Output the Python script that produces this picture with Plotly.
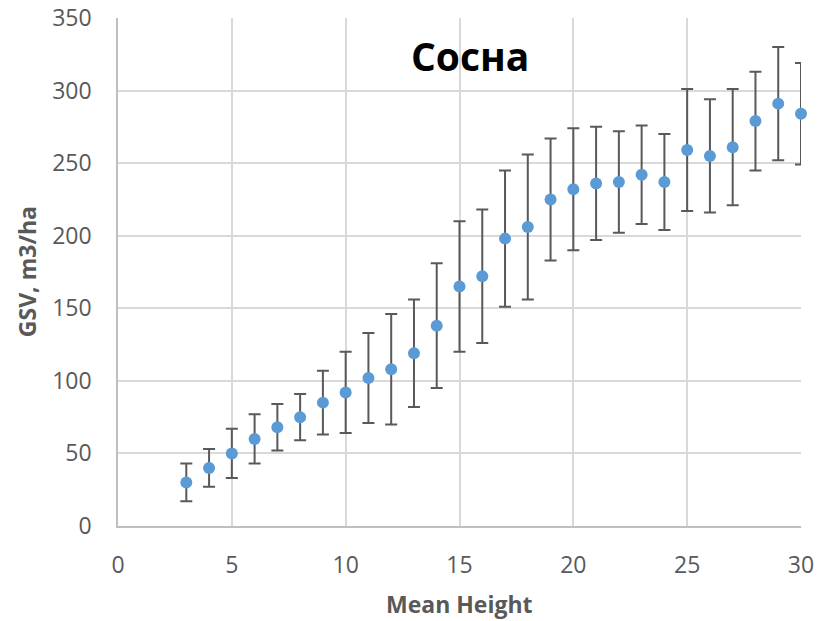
import plotly.graph_objects as go

heights = [3, 4, 5, 6, 7, 8, 9, 10, 11, 12, 13, 14, 15, 16, 17, 18, 19, 20,
           21, 22, 23, 24, 25, 26, 27, 28, 29, 30]
gsv = [30, 40, 50, 60, 68, 75, 85, 92, 102, 108, 119, 138, 165, 172, 198, 206,
       225, 232, 236, 237, 242, 237, 259, 255, 261, 279, 291, 284]
err = [13, 13, 17, 17, 16, 16, 22, 28, 31, 38, 37, 43, 45, 46, 47, 50,
       42, 42, 39, 35, 34, 33, 42, 39, 40, 34, 39, 35]

grey = "#595959"
fig = go.Figure()
fig.add_trace(go.Scatter(
    x=heights, y=gsv, mode="markers",
    marker=dict(color="#5B9BD5", size=12),
    error_y=dict(type="data", array=err, visible=True, color=grey,
                 thickness=2, width=6),
    showlegend=False, cliponaxis=False,
))

fig.update_layout(
    width=819, height=621,
    margin=dict(l=118, r=18, t=18, b=95, autoexpand=False),
    plot_bgcolor="white", paper_bgcolor="white",
    font=dict(family="Open Sans", color=grey, size=23),
    xaxis=dict(range=[0, 30], dtick=5, showgrid=True, gridcolor="#D9D9D9",
               gridwidth=1.5, zeroline=False, showline=True,
               linecolor="#BFBFBF", linewidth=1.5, ticks="", automargin=False,
               ticklabelstandoff=18, tickfont=dict(size=23, color=grey)),
    yaxis=dict(range=[0, 350], dtick=50, showgrid=True, gridcolor="#D9D9D9",
               gridwidth=1.5, zeroline=False, showline=True,
               linecolor="#BFBFBF", linewidth=1.5, ticks="", automargin=False,
               ticklabelstandoff=20, tickfont=dict(size=23, color=grey)),
    annotations=[
        dict(text="<b>Сосна</b>", xref="paper", yref="paper", x=0.515, y=0.927,
             xanchor="center", yanchor="middle", showarrow=False,
             font=dict(family="Open Sans", size=39, color="black")),
        dict(text="<b>Mean Height</b>", xref="paper", yref="paper", x=0.5,
             y=-0.1535, xanchor="center", yanchor="middle", showarrow=False,
             font=dict(family="Open Sans", size=23, color=grey)),
        dict(text="<b>GSV, m3/ha</b>", xref="paper", yref="paper", x=-0.133,
             y=0.5, xanchor="center", yanchor="middle", showarrow=False,
             textangle=-90, font=dict(family="Open Sans", size=23, color=grey)),
    ],
)

fig.write_html("out.html")
